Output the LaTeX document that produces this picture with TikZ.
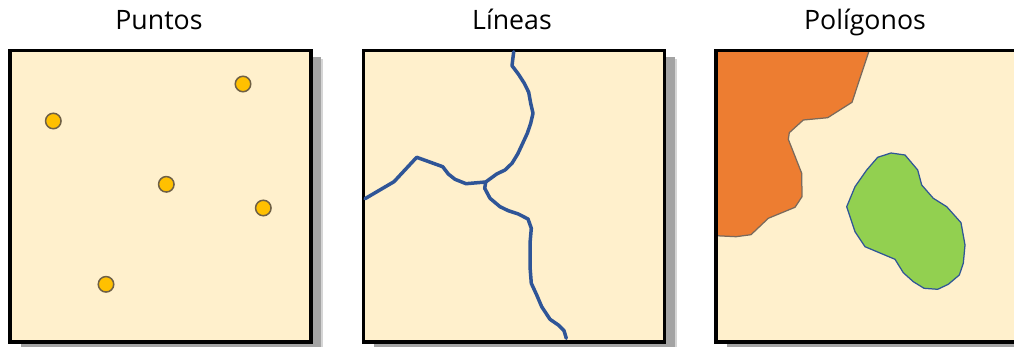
\documentclass[tikz,border=0pt]{standalone}
\usepackage{xcolor}
\usepackage{fontspec}
\setmainfont{Open Sans}
\usetikzlibrary{shadows}
\definecolor{mapfill}{HTML}{FFF0CC}
\definecolor{shadowgray}{HTML}{A3A3A3}
\definecolor{shadowlight}{HTML}{D5D5D5}
\definecolor{pointfill}{HTML}{FFC000}
\definecolor{pointline}{HTML}{6F6045}
\definecolor{riverblue}{HTML}{2F5597}
\definecolor{orangepoly}{HTML}{ED7D31}
\definecolor{orangeline}{HTML}{7A6A5C}
\definecolor{greenpoly}{HTML}{92D050}
\tikzset{
  mappanel/.style={rectangle,draw=black,fill=mapfill,line width=0.07cm,outer sep=0pt,
    minimum width=6.02cm,minimum height=5.83cm,
    copy shadow={draw=none,fill=shadowlight,shadow xshift=0.25cm,shadow yshift=-0.18cm},
    copy shadow={draw=none,fill=shadowgray,shadow xshift=0.21cm,shadow yshift=-0.14cm}},
  paneltitle/.style={font=\fontsize{15.2pt}{18pt}\selectfont,text=black,anchor=base,inner sep=0pt},
  mappoint/.style={circle,draw=pointline,fill=pointfill,line width=0.03cm,minimum size=0.31cm,inner sep=0pt},
  river/.style={draw=riverblue,line width=0.07cm,line join=round,line cap=round}
}
\begin{document}
\begin{tikzpicture}[x=0.02cm,y=-0.02cm]
        \clip (0,0) rectangle (1014,347);
        \fill[white] (0,0) rectangle (1014,347);
        % titles
        \node[paneltitle] (puntos) at (159,30) {Puntos};
        \node[paneltitle] (lineas) at (512,30) {Líneas};
        \node[paneltitle] (poligonos) at (865,30) {Polígonos};
        % panels
        \node[mappanel] (panela) at (160.5,196.2) {};
        \node[mappanel] (panelb) at (513.8,196.2) {};
        \node[mappanel] (panelc) at (866.5,196.2) {};
        % points
        \begin{scope}[every node/.style={mappoint}]
        \node (a) at (243,84) {};
        \node (b) at (53.3,121) {};
        \node (c) at (166.3,184.3) {};
        \node (d) at (263.3,208) {};
        \node (e) at (106,284.3) {};
        \end{scope}
        % lines
        \draw[river] (513.7,51.7) -- (512,65.7) -- (518.3,74) -- (524.3,83.3) -- (528.7,92.3) -- (530.7,103.3) -- (533,113.3) -- (530.7,123.3) -- (527.3,133.3) -- (522.7,143.3) -- (517.7,154) -- (512,163.3) -- (505,170) -- (496.7,174) -- (485.7,182);
        \draw[river] (485.7,182) -- (466,183.7) -- (455,179.3) -- (448.3,174) -- (442.7,166.7) -- (416.7,157.3) -- (394,181.7) -- (365,198.7);
        \draw[river] (485.7,182) -- (484.7,188.3) -- (490,198.3) -- (500,206.7) -- (508.3,210.7) -- (518.3,214) -- (528,219) -- (531.3,228.3) -- (530,243.3) -- (530,266.7) -- (531.3,283.3) -- (536.7,295) -- (541.7,306.7) -- (550,319.3) -- (558.3,325) -- (564,330.7) -- (566.3,338.3);
        % polygons
        \filldraw[fill=orangepoly,draw=orangeline,line width=0.025cm,line join=round] (716,51) -- (869,51) -- (852,102.3) -- (827.7,117.7) -- (803.3,120) -- (789.3,132.7) -- (788.3,139.3) -- (801.7,173.3) -- (802,196.7) -- (795,207.3) -- (768.3,218.3) -- (751,234.7) -- (736,236.7) -- (716,235.7) -- cycle;
        \filldraw[fill=greenpoly,draw=riverblue,line width=0.025cm,line join=round] (846.7,206.7) -- (855,186.7) -- (866.7,170) -- (877.7,157.3) -- (891,153) -- (905,155) -- (917.7,170) -- (921.7,185) -- (933.3,198.3) -- (946.7,206.7) -- (961,222.7) -- (965,245) -- (963.3,263.3) -- (959.3,275) -- (948.3,284.3) -- (937.7,289.3) -- (924,288.3) -- (913.3,281.7) -- (903.3,272.7) -- (895,259.3) -- (865,246.7) -- (855,231.7) -- cycle;
        \draw[black,line width=0.07cm] (panelc.north west) rectangle (panelc.south east);
\end{tikzpicture}
\end{document}
